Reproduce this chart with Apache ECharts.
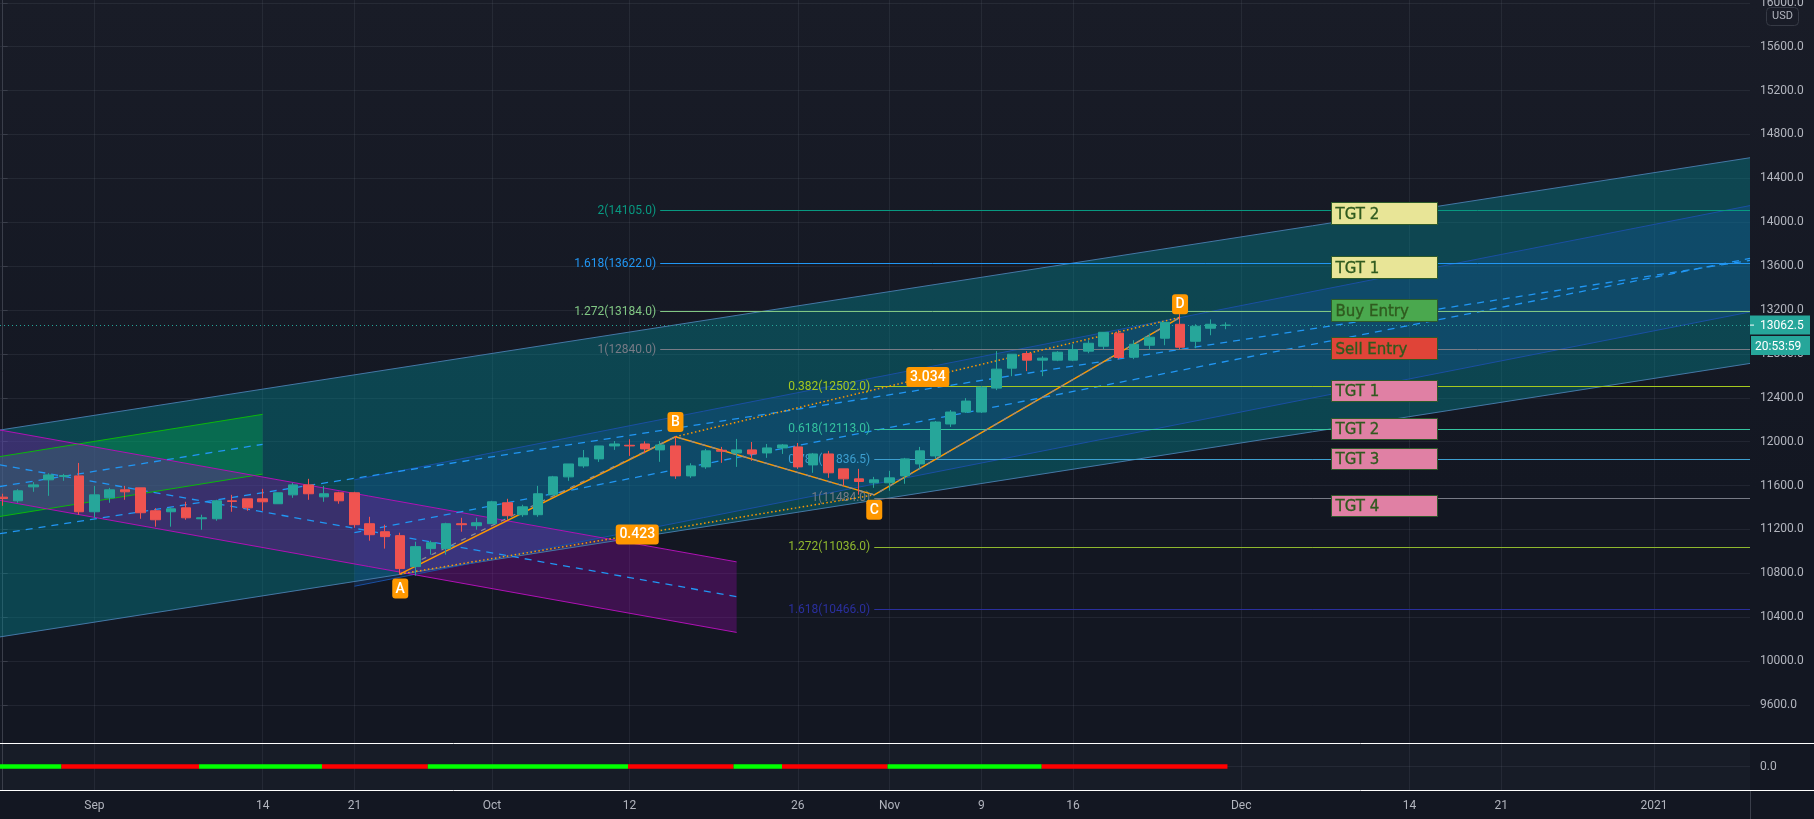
<!DOCTYPE html>
<html><head><meta charset="utf-8">
<style>html,body{margin:0;padding:0;width:1814px;height:819px;overflow:hidden;background:linear-gradient(#191c27,#131722 60%)}#c{width:1814px;height:819px}</style>
<script src="https://cdn.jsdelivr.net/npm/echarts@6/dist/echarts.min.js"></script>
</head><body><div id="c"></div>
<script>
const opens=[11494,11461,11588,11652,11682,11688,11361,11488,11561,11579,11370,11361,11397,11297,11297,11461,11479,11479,11434,11515,11606,11497,11534,11534,11252,11179,11143,10861,11025,11025,11252,11234,11252,11443,11334,11334,11515,11679,11779,11843,11961,11967,11979,11925,11961,11688,11770,11922,11897,11925,11897,11943,11952,11788,11888,11752,11661,11625,11625,11688,11797,11870,12161,12270,12270,12488,12670,12803,12743,12743,12743,12825,12870,12988,12770,12879,12943,13070,12915,13034,13060];
const closes=[11482,11552,11606,11697,11691,11361,11515,11561,11543,11352,11288,11388,11306,11306,11461,11455,11397,11452,11534,11606,11525,11525,11461,11243,11152,11134,10843,11043,11079,11252,11243,11261,11452,11325,11406,11525,11679,11797,11852,11961,11979,11961,11934,11970,11688,11779,11916,11913,11925,11888,11943,11970,11770,11888,11716,11661,11637,11652,11670,11843,11916,12179,12270,12370,12497,12661,12797,12743,12761,12815,12840,12897,12997,12767,12888,12952,13088,12861,13052,13070,13062.5];
const lows=[11415,11443,11543,11506,11643,11334,11306,11443,11470,11297,11225,11225,11288,11197,11279,11361,11370,11370,11434,11488,11470,11452,11434,11215,11097,11025,10788,10779,10970,10970,11179,11197,11252,11288,11315,11315,11515,11643,11761,11815,11925,11870,11894,11816,11661,11670,11752,11807,11770,11825,11852,11888,11752,11716,11670,11597,11516,11579,11552,11616,11752,11843,12134,12261,12261,12470,12597,12643,12597,12734,12734,12806,12840,12752,12752,12840,12879,12843,12852,12970,13025];
const highs=[11525,11567,11631,11712,11706,11806,11597,11579,11597,11579,11394,11403,11452,11334,11470,11515,11479,11570,11534,11625,11661,11597,11543,11543,11315,11243,11170,11088,11097,11261,11306,11306,11461,11479,11425,11597,11688,11797,11924,11961,12006,12022,12003,12006,12052,11803,11934,11952,12025,11997,11979,11979,11988,11897,11916,11752,11752,11679,11734,11852,11952,12188,12288,12397,12506,12825,12797,12825,12779,12825,12888,12925,12997,13016,12925,12985,13088,13167,13070,13115,13088];

const xMin=-0.1766, xMax=114.275;
const tickBars=[6,17,23,32,41,52,58,64,70,81,92,98,108];
const tickLabels=['Sep','14','21','Oct','12','26','Nov','9','16','Dec','14','21','2021'];
const priceTicks=[9600,10000,10400,10800,11200,11600,12000,12400,12800,13200,13600,14000,14400,14800,15200,15600,16000];
const yMin=9253, yMax=16026;
const lastPrice=13062.5;

// channels: [bar, upper, lower, middle]
const tealChannel=[[xMin,12106,10220,11161],[xMax,14588,12713,13652]];
const blueChannel=[[23,11652,10682,11170],[xMax,14152,13182,13670]];
const greenChannel=[[xMin,11864,11318,11591],[17,12249,11704,11976]];
const purpleChannel=[[xMin,12106,11464,11788],[48,10904,10261,10587]];

// fibonacci levels
const upperFib=[['2(14105.0)',14105,'#089981'],['1.618(13622.0)',13622,'#2196f3'],['1.272(13184.0)',13184,'#81c784'],['1(12840.0)',12840,'#787b86']];
const lowerFib=[['0.382(12502.0)',12502,'#a5c91f'],['0.618(12113.0)',12113,'#35c4a0'],['0.786(11836.5)',11836.5,'#3d9fd0'],['1(11484.0)',11484,'#787b86'],['1.272(11036.0)',11036,'#8fb82e'],['1.618(10466.0)',10466,'#2a2f9e']];
const upperFibStart=43, lowerFibStart=57;

// harmonic pattern
const patternPath=[[26,10794],[44,12045],[57,11515],[77,13133]];
const tracePath=[[27.4,10925],[44,12045],[57,11515],[77,13133]];
const ratioAC=[[26,10794],[57,11515]];
const ratioBD=[[44,12045],[77,13133]];
const patternLabels=[['A',26,10661],['B',44,12179],['C',57,11379],['D',77,13252],['0.423',41.5,11154],['3.034',60.5,12589]];

// annotation boxes: text, upper price, lower price, fill
const boxBars=[86.9,93.83];
const boxes=[['TGT 2',14182,13985,'#e8e597'],['TGT 1',13691,13495,'#e8e597'],['Buy Entry',13304,13104,'#4aa84e'],['Sell Entry',12955,12758,'#e04438'],['TGT 1',12561,12367,'#e080a4'],['TGT 2',12218,12022,'#e080a4'],['TGT 3',11945,11749,'#e080a4'],['TGT 4',11518,11322,'#e080a4']];

// indicator pane spans: from bar, to bar, colour
const indicatorSpans=[[xMin,3.84,'#00ff00'],[3.84,12.84,'#ff0000'],[12.84,20.88,'#00ff00'],[20.88,27.8,'#ff0000'],[27.8,40.9,'#00ff00'],[40.9,47.8,'#ff0000'],[47.8,50.97,'#00ff00'],[50.97,57.87,'#ff0000'],[57.87,67.95,'#00ff00'],[67.95,80.1,'#ff0000']];

const BOX_FONT='15px "DejaVu Sans"', FIB_FONT='12px Roboto', TICK='#b2b5be', GRID='rgba(120,125,140,0.14)';
const lineS=(data,color,width,type,z,name)=>({type:'line',name,data,xAxisIndex:0,yAxisIndex:0,showSymbol:false,symbol:'none',silent:true,animation:false,z,lineStyle:{color,width,type},emphasis:{disabled:true}});
const hLine=(from,price,color,dash,z)=>({type:'custom',xAxisIndex:0,yAxisIndex:0,silent:true,animation:false,z,data:[[from,price]],
  renderItem:(p,api)=>{const a=api.coord([from,price]),b=api.coord([xMax,price]),y=Math.floor(a[1])+0.5;
    return {type:'line',shape:{x1:a[0],y1:y,x2:b[0],y2:y},style:{stroke:color,lineWidth:1,lineDash:dash||null}};}});
const band=(ch,fill,z)=>({type:'custom',xAxisIndex:0,yAxisIndex:0,silent:true,animation:false,z,data:[[ch[0][0],ch[0][1]]],
  renderItem:(p,api)=>({type:'polygon',shape:{points:[api.coord([ch[0][0],ch[0][1]]),api.coord([ch[1][0],ch[1][1]]),api.coord([ch[1][0],ch[1][2]]),api.coord([ch[0][0],ch[0][2]])]},style:{fill}})});
const edges=(ch,color,z,w)=>[lineS([[ch[0][0],ch[0][1]],[ch[1][0],ch[1][1]]],color,w||1,'solid',z),lineS([[ch[0][0],ch[0][2]],[ch[1][0],ch[1][2]]],color,w||1,'solid',z)];
const mid=(ch,z)=>lineS([[ch[0][0],ch[0][3]],[ch[1][0],ch[1][3]]],'#2196f3',1.3,[7,6],z);

const series=[];
series.push(band(tealChannel,'rgba(0,150,160,0.36)',2),band(blueChannel,'rgba(21,90,175,0.26)',2),band(greenChannel,'rgba(0,200,83,0.3)',2),band(purpleChannel,'rgba(150,10,170,0.33)',2));
series.push(...edges(tealChannel,'#4478a6',3),...edges(blueChannel,'#1a4fa3',3),...edges(greenChannel,'#0cb80c',3),...edges(purpleChannel,'#b012b5',3));
series.push(mid(tealChannel,3),mid(blueChannel,3),mid(greenChannel,3),mid(purpleChannel,3));
upperFib.forEach(f=>series.push(hLine(upperFibStart,f[1],f[2],null,4)));
lowerFib.forEach(f=>series.push(hLine(lowerFibStart,f[1],f[2],null,4)));
series.push(hLine(xMin,lastPrice,'#26a69a',[1,3],4));
series.push({type:'custom',xAxisIndex:0,yAxisIndex:0,silent:true,animation:false,z:4,data:upperFib.map(f=>[upperFibStart,f[1]]).concat(lowerFib.map(f=>[lowerFibStart,f[1]])),
  renderItem:(p,api)=>{const all=upperFib.concat(lowerFib),f=all[p.dataIndex],c=api.coord([api.value(0),api.value(1)]);
    return {type:'text',style:{text:f[0],x:c[0]-4,y:c[1],align:'right',verticalAlign:'middle',font:FIB_FONT,fill:f[2]}};}});
series.push(lineS(patternPath,'#ff9800',1.5,'solid',5),lineS(ratioAC,'#ff9800',1.5,[1.5,2.5],5),lineS(ratioBD,'#ff9800',1.5,[1.5,2.5],5),lineS(tracePath,'#8a8d96',1.2,[5,6],5));
series.push({type:'candlestick',xAxisIndex:0,yAxisIndex:0,silent:true,animation:false,z:6,barWidth:10,
  itemStyle:{color:'#26a69a',color0:'#ef5350',borderColor:'#26a69a',borderColor0:'#ef5350',borderWidth:1},
  data:opens.map((o,i)=>[i,o,closes[i],lows[i],highs[i]])});
series.push({type:'custom',xAxisIndex:0,yAxisIndex:0,silent:true,animation:false,z:7,data:patternLabels.map(l=>[l[1],l[2]]),
  renderItem:(p,api)=>{const l=patternLabels[p.dataIndex],c=api.coord([api.value(0),api.value(1)]),w=l[0].length>1?43:16,h=20;
    return {type:'group',children:[{type:'rect',shape:{x:c[0]-w/2,y:c[1]-h/2,width:w,height:h,r:3},style:{fill:'#ff9800'}},
      {type:'text',style:{text:l[0],x:c[0],y:c[1]+0.5,align:'center',verticalAlign:'middle',font:'500 14px Roboto',fill:'#fff'}}]};}});
series.push({type:'custom',xAxisIndex:0,yAxisIndex:0,silent:true,animation:false,z:8,data:boxes.map(b=>[boxBars[0],b[1]]),
  renderItem:(p,api)=>{const b=boxes[p.dataIndex],a=api.coord([boxBars[0],b[1]]),e=api.coord([boxBars[1],b[2]]);
    const x0=Math.round(a[0])+0.5,y0=Math.round(a[1])+0.5,x1=Math.round(e[0])+0.5,y1=Math.round(e[1])+0.5;
    return {type:'group',children:[{type:'rect',shape:{x:x0,y:y0,width:x1-x0,height:y1-y0},style:{fill:b[3],stroke:'#2d5a2a',lineWidth:1}},
      {type:'text',style:{text:b[0],x:x0+4,y:(y0+y1)/2+1.5,align:'left',verticalAlign:'middle',font:BOX_FONT,fill:'#2f5a1e',stroke:'#2f5a1e',lineWidth:0.35}}]};}});
series.push({type:'custom',xAxisIndex:0,yAxisIndex:0,silent:true,animation:false,z:9,clip:false,data:[[xMax,lastPrice]],
  renderItem:(p,api)=>{const c=api.coord([xMax,lastPrice]),x=c[0],y=c[1];
    return {type:'group',children:[
      {type:'rect',shape:{x:x,y:y-9.5,width:60,height:19},style:{fill:'#26a69a'}},
      {type:'line',shape:{x1:x,y1:y,x2:x+4,y2:y},style:{stroke:'#fff',lineWidth:1}},
      {type:'text',style:{text:String(lastPrice),x:x+10,y:y+1,align:'left',verticalAlign:'middle',font:'12px Roboto',fill:'#fff'}},
      {type:'rect',shape:{x:x+1,y:y+11,width:59,height:19},style:{fill:'#26a69a'}},
      {type:'text',style:{text:'20:53:59',x:x+5,y:y+21.5,align:'left',verticalAlign:'middle',font:'12px Roboto',fill:'#fff'}}]};}});
series.push(...indicatorSpans.map(s=>({type:'line',xAxisIndex:1,yAxisIndex:1,showSymbol:false,symbol:'none',silent:true,animation:false,z:5,data:[[s[0],0],[s[1],0]],lineStyle:{color:s[2],width:4.5,cap:'butt',shadowBlur:0}})));

const xBase=(show)=>({type:'value',min:xMin,max:xMax,scale:true,
  axisLine:{show:false},axisTick:{show:false,customValues:tickBars},
  splitLine:{show:true,lineStyle:{color:GRID,width:1}},
  axisLabel:{show,customValues:tickBars,color:TICK,fontFamily:'Roboto',fontSize:12,margin:10,formatter:v=>tickLabels[tickBars.indexOf(v)]||''}});

const chart=echarts.init(document.getElementById('c'),null,{renderer:'canvas',width:1814,height:819});
chart.setOption({backgroundColor:'transparent',animation:false,
  grid:[{left:0,top:0,width:1750,height:743,show:false,outerBoundsMode:'none'},{left:0,top:743,width:1750,height:47,show:true,backgroundColor:'rgba(28,32,44,0.55)',borderWidth:0,outerBoundsMode:'none'}],
  xAxis:[Object.assign(xBase(false),{gridIndex:0}),Object.assign(xBase(true),{gridIndex:1})],
  yAxis:[{type:'value',gridIndex:0,position:'right',min:yMin,max:yMax,scale:true,
      axisLine:{show:true,lineStyle:{color:'#3a3e4a'}},axisTick:{show:true,length:5,customValues:priceTicks,lineStyle:{color:'#3a3e4a'}},
      splitLine:{show:true,lineStyle:{color:GRID}},
      axisLabel:{inside:false,margin:10,customValues:priceTicks,color:TICK,fontFamily:'Roboto',fontSize:12,formatter:v=>v.toFixed(1)}},
    {type:'value',gridIndex:1,position:'right',min:-1,max:1,
      axisLine:{show:true,lineStyle:{color:'#3a3e4a'}},axisTick:{show:true,length:5,customValues:[0],lineStyle:{color:'#3a3e4a'}},
      splitLine:{show:true,lineStyle:{color:GRID}},
      axisLabel:{margin:10,customValues:[0],color:TICK,fontFamily:'Roboto',fontSize:12,formatter:v=>v.toFixed(1)}}],
  graphic:[
    {type:'line',z:20,shape:{x1:0,y1:743.5,x2:1814,y2:743.5},style:{stroke:'#ffffff',lineWidth:1}},
    {type:'line',z:20,shape:{x1:0,y1:790.5,x2:1814,y2:790.5},style:{stroke:'#ffffff',lineWidth:1}},
    {type:'line',z:1,shape:{x1:1750.5,y1:790,x2:1750.5,y2:819},style:{stroke:'#3a3e4a',lineWidth:1}},
    {type:'rect',z:20,shape:{x:1766.5,y:7.5,width:32,height:18,r:4},style:{fill:'#191c27',stroke:'#363a45',lineWidth:1}},
    {type:'text',z:21,style:{text:'USD',x:1782.5,y:16.5,align:'center',verticalAlign:'middle',font:'11px Roboto',fill:TICK}}
  ],
  series});
</script></body></html>
